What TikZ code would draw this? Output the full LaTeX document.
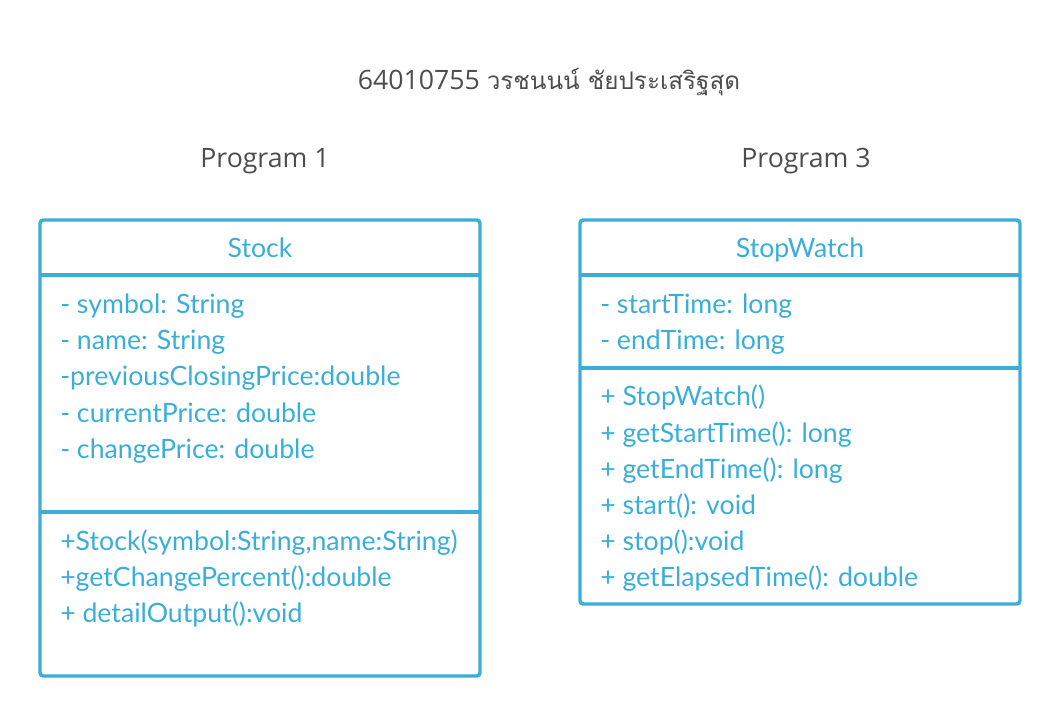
\documentclass[tikz,border=0pt]{standalone}
\usepackage{fontspec}
\setmainfont{Lato}
\newfontfamily\titlefont{Open Sans}
\newfontfamily\thaifont[Script=Thai]{Loma}
\usetikzlibrary{positioning}
\definecolor{uml-blue}{RGB}{58,174,216}
\definecolor{title-gray}{RGB}{77,77,77}
\tikzset{
    classbox/.style = {draw=uml-blue, line width=2.6pt, rounded corners=2.5pt},
    divider/.style  = {draw=uml-blue, line width=2.6pt},
    member/.style   = {anchor=base west, inner sep=0pt, text=uml-blue, font=\fontsize{20}{20}\selectfont},
    classname/.style= {anchor=base, inner sep=0pt, text=uml-blue, font=\fontsize{20}{20}\selectfont},
    heading/.style  = {anchor=base, inner sep=0pt, text=title-gray, font=\titlefont\fontsize{20}{20}\selectfont}
}

\begin{document}
\begin{tikzpicture}[x=0.75pt, y=-0.75pt]
\useasboundingbox (0,0) rectangle (1060,716);

%titles
\node[heading] (title) at (549,90) {64010755 {\thaifont\fontsize{18.2}{20}\selectfont วรชนนน์ ชัยประเสริฐสุด}};
\node[heading] (prog1) at (265,168) {Program 1};
\node[heading] (prog3) at (806,168) {Program 3};

%class stock
\coordinate (stock-nw) at (40,220);
\coordinate (stock-se) at (480,676);
\draw[classbox] (stock-nw) rectangle (stock-se);
\draw[divider] (stock-nw |- 0,275) -- (stock-se |- 0,275);
\draw[divider] (stock-nw |- 0,512) -- (stock-se |- 0,512);
\node[classname] (stock) at (260,258) {Stock};

\node[member] (stock-a1) at (60,314) {- symbol: String};
\node[member] (stock-a2) at (60,350) {- name: String};
\node[member] (stock-a3) at (60,386) {-previousClosingPrice:double};
\node[member] (stock-a4) at (60,422) {- currentPrice: double};
\node[member] (stock-a5) at (60,458) {- changePrice: double};

\node[member] (stock-m1) at (60,550) {+Stock(symbol:String,name:String)};
\node[member] (stock-m2) at (60,586) {+getChangePercent():double};
\node[member] (stock-m3) at (60,622) {+ detailOutput():void};

%class stopwatch
\coordinate (watch-nw) at (580,220);
\coordinate (watch-se) at (1020,604);
\draw[classbox] (watch-nw) rectangle (watch-se);
\draw[divider] (watch-nw |- 0,275) -- (watch-se |- 0,275);
\draw[divider] (watch-nw |- 0,368) -- (watch-se |- 0,368);
\node[classname] (watch) at (800,258) {StopWatch};

\node[member] (watch-a1) at (600,314) {- startTime: long};
\node[member] (watch-a2) at (600,350) {- endTime: long};

\node[member] (watch-m1) at (600,406) {+ StopWatch()};
\node[member] (watch-m2) at (600,442) {+ getStartTime(): long};
\node[member] (watch-m3) at (600,478) {+ getEndTime(): long};
\node[member] (watch-m4) at (600,514) {+ start(): void};
\node[member] (watch-m5) at (600,550) {+ stop():void};
\node[member] (watch-m6) at (600,586) {+ getElapsedTime(): double};
\end{tikzpicture}
\end{document}
